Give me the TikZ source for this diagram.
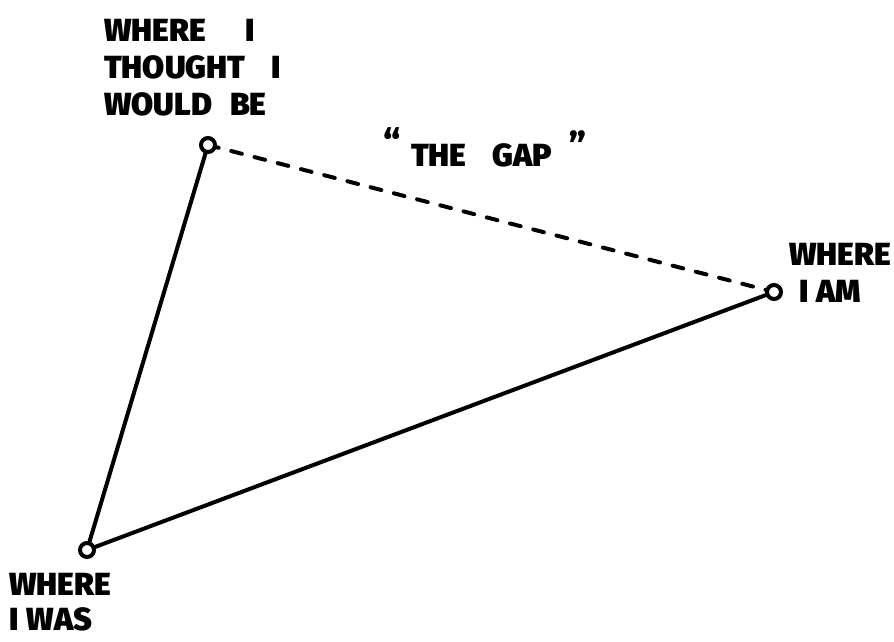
\documentclass[tikz,border=0pt]{standalone}
\usepackage{fontspec}
\setmainfont{Fira Sans}[BoldFont={Fira Sans Black}]
\begin{document}
\begin{tikzpicture}[x=1pt,y=-1pt,
  pt/.style={circle,draw=black,line width=4pt,fill=white,minimum size=14pt,inner sep=0pt},
  edge/.style={line width=4pt,line cap=round},
  gap/.style={edge,dash pattern=on 11pt off 13pt},
  lbl/.style={font=\fontsize{32}{37}\selectfont\bfseries,inner sep=0pt,align=left},
  qt/.style={font=\fontsize{36}{36}\selectfont\bfseries,inner sep=0pt}]
\useasboundingbox (0,0) rectangle (894,641);
\coordinate (t) at (208,145);
\coordinate (r) at (774,292);
\coordinate (b) at (87,550);
\draw[edge] (t) -- (b);
\draw[edge] (b) -- (r);
\draw[gap] (t) -- (r);
\node[pt] (tn) at (t) {};
\node[pt] (rn) at (r) {};
\node[pt] (bn) at (b) {};
\node[lbl,anchor=west] (tl) at (104,68) {WHERE\hspace{40pt}I\\THOUGHT\hspace{26pt}I\\WOULD\hspace{18pt}BE};
\node[lbl,anchor=west] (gl) at (411,155) {THE\hspace{26pt}GAP};
\node[qt] (q1) at (392,142) {\char"201C};
\node[qt] (q2) at (578,145) {\char"201D};
\node[lbl,anchor=west] (rl) at (789,273) {WHERE\\\hspace{10pt}I\hspace{8pt}AM};
\node[lbl,anchor=west,font=\fontsize{32}{35}\selectfont\bfseries] (bl) at (9,602) {WHERE\\I\hspace{8pt}WAS};
\end{tikzpicture}
\end{document}
